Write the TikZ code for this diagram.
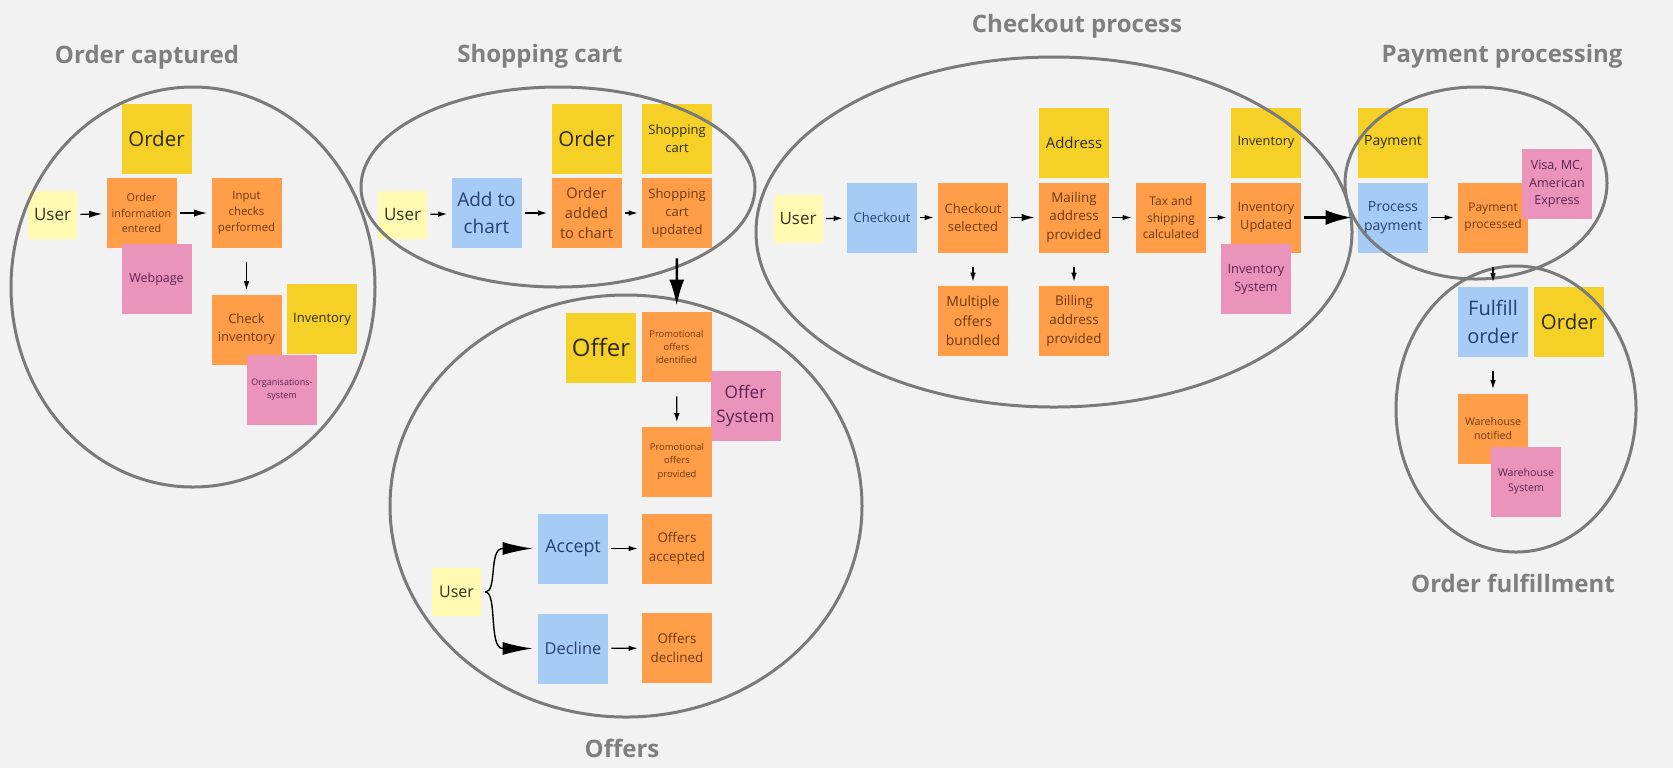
\documentclass[tikz,border=0pt]{standalone}
\usepackage{fontspec}
\setmainfont{Open Sans}
\usetikzlibrary{arrows.meta}

\definecolor{board}{HTML}{F2F2F2}
\definecolor{entityYellow}{HTML}{F5D128}
\definecolor{eventOrange}{HTML}{FF9D48}
\definecolor{cmdBlue}{HTML}{A6CCF5}
\definecolor{sysPink}{HTML}{EA94BB}
\definecolor{actorYellow}{HTML}{FFF9B1}
\definecolor{groupGray}{HTML}{7A7A7A}
\definecolor{titleGray}{HTML}{7F7F7F}
\definecolor{entityText}{HTML}{2E2A12}
\definecolor{eventText}{HTML}{6E3A12}
\definecolor{cmdText}{HTML}{27406F}
\definecolor{sysText}{HTML}{5C2451}
\definecolor{actorText}{HTML}{333322}

\tikzset{
  fs/.style={font={\fontsize{#1}{#1}\selectfont\baselineskip=1.4\baselineskip}},
  note/.style={minimum width=35pt,minimum height=35pt,inner sep=1pt,align=center},
  actor/.style={note,fill=actorYellow,text=actorText,minimum width=24.5pt,minimum height=24pt},
  entity/.style={note,fill=entityYellow,text=entityText},
  event/.style={note,fill=eventOrange,text=eventText},
  command/.style={note,fill=cmdBlue,text=cmdText},
  system/.style={note,fill=sysPink,text=sysText},
  group/.style={draw=groupGray,line width=1.5pt},
  grouptitle/.style={anchor=base,text=titleGray,font=\bfseries\fontsize{12}{14}\selectfont},
  arr/.style={-{Latex[length=4.5pt,width=2.8pt]},line width=0.6pt,shorten <=1.5pt,shorten >=2pt},
  medarr/.style={arr,-{Latex[length=6.5pt,width=3.6pt]}},
  downarr/.style={arr,shorten <=7pt},
  bigarr/.style={-{Latex[length=13pt,width=7.5pt]},line width=1.25pt},
  fork/.style={-{Latex[length=15pt,width=6.5pt]},line width=0.7pt,shorten <=2pt,shorten >=2.5pt}
}

\begin{document}
\begin{tikzpicture}[x=0.5pt,y=-0.5pt]
\path[fill=board,use as bounding box] (0,0) rectangle (1673,768);

\node[entity,fs=10.25] (ord1) at (156.5,139) {Order};
\node[actor,fs=8.5] (user1) at (52.5,215) {User};
\node[event,fs=5.4] (info1) at (141.5,213) {Order\\information\\entered};
\node[event,fs=5.7] (chk1) at (246.5,213) {Input\\checks\\performed};
\node[system,fs=6.25] (web1) at (156.5,279) {Webpage};
\node[event,fs=6.5] (inv1) at (246.5,329.5) {Check\\inventory};
\node[entity,fs=6.5] (invE1) at (322,319) {Inventory};
\node[system,fs=4.5] (org1) at (282,389.5) {Organisations-\\system};

\node[actor,fs=8.5] (user2) at (402.5,215) {User};
\node[command,fs=9.5] (add2) at (486.5,213) {Add to\\chart};
\node[entity,fs=10.25] (ord2) at (586.5,139) {Order};
\node[event,fs=7.3] (added2) at (586.5,213) {Order\\added\\to chart};
\node[entity,fs=6.5] (cart2) at (677,139) {Shopping\\cart};
\node[event,fs=6.5] (upd2) at (677,213) {Shopping\\cart\\updated};

\node[entity,fs=12] (offer3) at (601,347.5) {Offer};
\node[event,fs=4.7] (promo3) at (676.5,347) {Promotional\\offers\\identified};
\node[system,fs=8.6] (osys3) at (745.5,406) {Offer\\System};
\node[event,fs=4.7] (prov3) at (677,461.5) {Promotional\\offers\\provided};
\node[actor,fs=8] (user3) at (456.5,592) {User};
\node[command,fs=8.9] (acc3) at (573,548.5) {Accept};
\node[command,fs=8.2] (dec3) at (573,648.5) {Decline};
\node[event,fs=6.7] (accd3) at (677,548.5) {Offers\\accepted};
\node[event,fs=6.7] (decd3) at (677,648) {Offers\\declined};

\node[actor,fs=8.5] (user4) at (798,219) {User};
\node[command,fs=6.5] (co4) at (882,217.5) {Checkout};
\node[event,fs=6.5] (sel4) at (973,217.5) {Checkout\\selected};
\node[entity,fs=7.5] (addr4) at (1074,143) {Address};
\node[event,fs=6.7] (mail4) at (1074,217.5) {Mailing\\address\\provided};
\node[event,fs=6] (tax4) at (1171,217.5) {Tax and\\shipping\\calculated};
\node[entity,fs=6.4] (invE4) at (1266,142.5) {Inventory};
\node[event,fs=6.4] (invU4) at (1266,217.5) {Inventory\\Updated};
\node[system,fs=6.4] (isys4) at (1256,279) {Inventory\\System};
\node[event,fs=7] (multi4) at (973,321) {Multiple\\offers\\bundled};
\node[event,fs=6.7] (bill4) at (1074,321) {Billing\\address\\provided};

\node[entity,fs=7] (payE5) at (1393,142.5) {Payment};
\node[command,fs=7] (pay5) at (1393,217.5) {Process\\payment};
\node[event,fs=6] (pdone5) at (1493,217.5) {Payment\\processed};
\node[system,fs=6.3] (visa5) at (1557,184) {Visa, MC,\\American\\Express};

\node[command,fs=10] (ful6) at (1493,321.5) {Fulfill\\order};
\node[entity,fs=10.2] (ordE6) at (1569,321.5) {Order};
\node[event,fs=5.3] (wh6) at (1493,428.5) {Warehouse\\notified};
\node[system,fs=5.3] (whs6) at (1526,481.5) {Warehouse\\System};

\draw[group] (193,287) ellipse [x radius=182,y radius=200];
\draw[group] (558,187) ellipse [x radius=197,y radius=100];
\draw[group] (626,506) ellipse [x radius=236,y radius=211];
\draw[group] (1054,232) ellipse [x radius=298,y radius=175];
\draw[group] (1476,183) ellipse [x radius=131,y radius=96];
\draw[group] (1516,409) ellipse [x radius=120,y radius=143];

\node[grouptitle] (title1) at (147,63) {Order captured};
\node[grouptitle] (title2) at (540,62) {Shopping cart};
\node[grouptitle] (title3) at (1077,32) {Checkout process};
\node[grouptitle] (title4) at (1502,62) {Payment processing};
\node[grouptitle] (title5) at (622,757) {Offers};
\node[grouptitle] (title6) at (1513,592) {Order fulfillment};

\path[medarr] (user1) edge (info1)
  (info1) edge (chk1)
  (sel4) edge (mail4);
\path[arr] (user2) edge (add2)
  (add2) edge (added2)
  (added2) edge (upd2)
  (acc3) edge (accd3)
  (dec3) edge (decd3)
  (user4) edge (co4)
  (co4) edge (sel4)
  (mail4) edge (tax4)
  (tax4) edge (invU4)
  (pay5) edge (pdone5);
\path[downarr] (chk1) edge (inv1)
  (promo3) edge (prov3)
  (sel4) edge (multi4)
  (mail4) edge (bill4)
  (pdone5) edge (ful6)
  (ful6) edge (wh6);
\draw[bigarr,shorten <=5pt,shorten >=3pt] (upd2) -- (promo3);
\draw[bigarr,shorten <=1.5pt,shorten >=3pt] (invU4) -- (pay5);
\draw[fork] (user3.east) .. controls +(16,0) and +(-14,0) .. ([xshift=-17.5pt]acc3.west) -- (acc3.west);
\draw[fork] (user3.east) .. controls +(16,0) and +(-14,0) .. ([xshift=-17.5pt]dec3.west) -- (dec3.west);
\end{tikzpicture}
\end{document}
